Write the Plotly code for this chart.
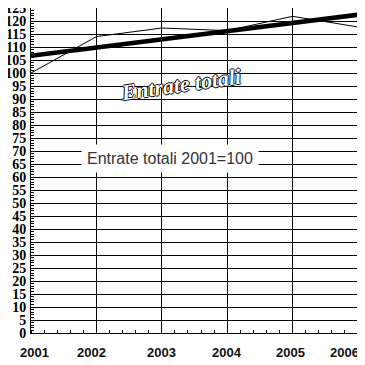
import plotly.graph_objects as go

years = [2001, 2002, 2003, 2004, 2005, 2006]
entrate = [100.0, 114.0, 117.3, 116.3, 121.8, 117.7]
trend_years = [2001, 2006]
trend_values = [106.6, 122.4]
x_tick_labels = ["2001", "2002", "2003", "2004", "2005", "2006"]
title_text = "Entrate totali"
note_text = "Entrate totali 2001=100"

fig = go.Figure()
fig.add_trace(go.Scatter(x=years, y=entrate, mode="lines",
                         line=dict(color="black", width=1), showlegend=False))
fig.add_trace(go.Scatter(x=trend_years, y=trend_values, mode="lines",
                         line=dict(color="black", width=4.5), showlegend=False))

label_shift = [3, -5, 0, 0, -2, 3]
label_anchor = ["center", "center", "center", "center", "center", "right"]
for yr, lab, sh, anc in zip(years, x_tick_labels, label_shift, label_anchor):
    fig.add_annotation(x=yr, y=0, xref="x", yref="paper", text=lab, showarrow=False,
                       xanchor=anc, yanchor="middle", xshift=sh, yshift=-19,
                       font=dict(family="Liberation Sans", size=13, color="#111", weight="bold"),
                       )

fig.add_annotation(x=2003.29, y=95.6, xref="x", yref="y", text=title_text, showarrow=False,
                   textangle=-8,
                   font=dict(family="Liberation Serif", size=22, color="white", style="italic",
                             weight="bold",
                             shadow="1px 0 0 #000, -1px 0 0 #000, 0 1px 0 #000, 0 -1px 0 #000"))

fig.add_annotation(x=2003.12, y=67.3, xref="x", yref="y", text=note_text, showarrow=False,
                   bgcolor="white", borderpad=5,
                   font=dict(family="Liberation Sans", size=16, color="#333"))

fig.update_layout(
    width=357, height=357,
    margin=dict(l=23, r=7, t=0, b=32, autoexpand=False),
    paper_bgcolor="white", plot_bgcolor="white",
    xaxis=dict(range=[2001, 2006], tickvals=years, showticklabels=False,
               showgrid=True, gridcolor="black", gridwidth=1,
               showline=True, linecolor="black", linewidth=1, mirror=True,
               ticks="", zeroline=False, automargin=False,
               minor=dict(dtick=0.2, tick0=2001, ticks="inside", ticklen=3,
                          tickcolor="black", showgrid=False)),
    yaxis=dict(range=[0, 125.001], dtick=5, tick0=0, automargin=False,
               showgrid=True, gridcolor="black", gridwidth=1,
               showline=True, linecolor="black", linewidth=1, mirror=True,
               ticks="", ticklabelstandoff=1, zeroline=False, ticklabeloverflow="allow",
               tickfont=dict(family="Liberation Serif", size=14, color="black", weight="bold"),
               minor=dict(dtick=1, tick0=0, ticks="inside", ticklen=3,
                          tickcolor="black", showgrid=False)),
)

fig.write_html("out.html")
